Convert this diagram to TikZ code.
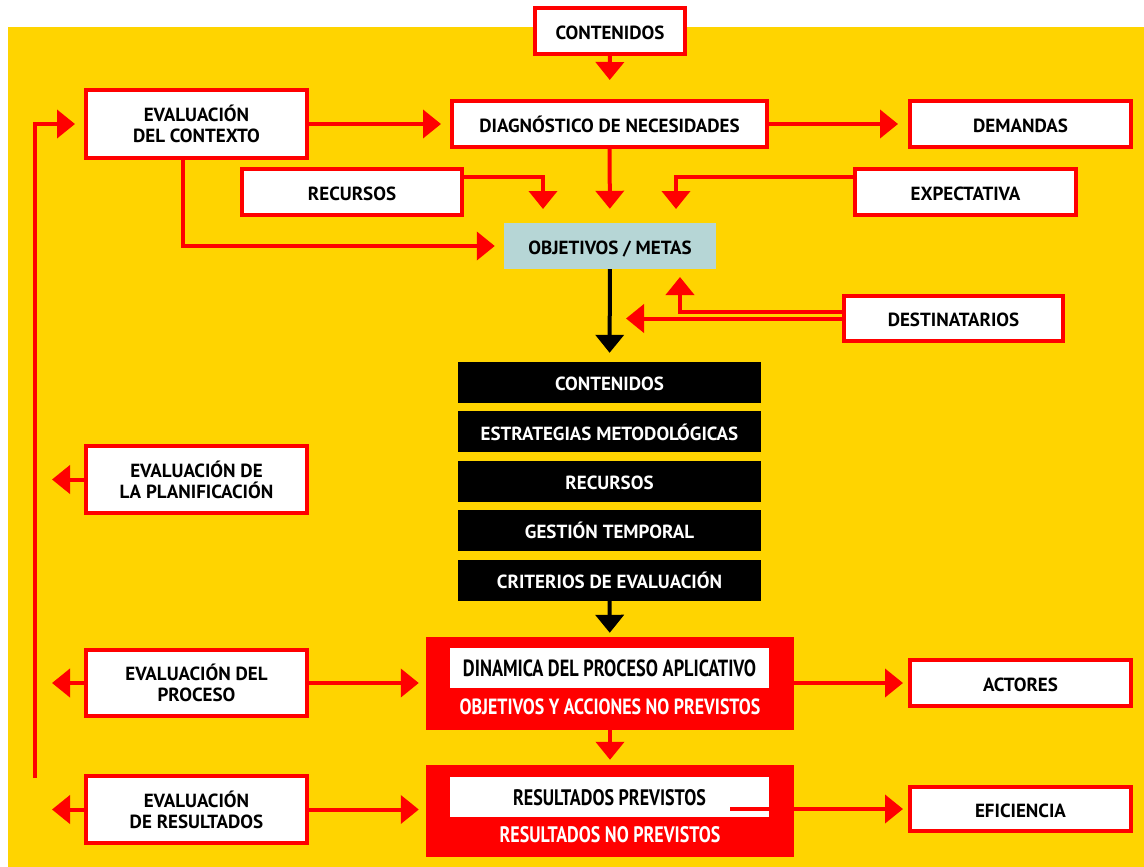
\documentclass[tikz,border=0pt]{standalone}
\usepackage{fontspec}
\setmainfont{PT Sans}
\newfontfamily\lblfont{PT Sans}
\newfontfamily\condfont{PT Sans}
\usetikzlibrary{arrows.meta}
\definecolor{bgyellow}{RGB}{255,212,0}
\definecolor{myred}{RGB}{255,0,0}
\definecolor{objblue}{RGB}{182,214,214}
\tikzset{
  lbl/.style={font=\lblfont\fontsize{19}{21}\selectfont\bfseries, align=center, text=black},
  oneline/.style={text height=16.5pt, text depth=0pt},
  redbox/.style={lbl, draw=myred, line width=4pt, fill=white, inner sep=0pt},
  blackbox/.style={lbl, oneline, fill=black, text=white, minimum width=303pt, minimum height=41pt, inner sep=0pt},
  tipshape/.style={-{Triangle[length=18pt,width=28pt]}},
  rarrow/.style={draw=myred, line width=4pt, tipshape},
  barrow/.style={draw=black, line width=4pt, tipshape},
  condtxt/.style={font=\condfont\bfseries, inner sep=0pt},
}
\newcommand{\fitto}[3]{\resizebox{#1pt}{#2pt}{#3}}
\begin{document}
\begin{tikzpicture}[x=1pt,y=-1pt]
\useasboundingbox (0,0) rectangle (1144,867);
\fill[white] (0,0) rectangle (1144,867);
\fill[bgyellow] (8,27) rectangle (1144,867);

% top row
\node[redbox, oneline, minimum width=150pt, minimum height=46pt] (contTop) at (610,31) {CONTENIDOS};
\node[redbox, minimum width=221pt, minimum height=68pt] (evalCtx) at (196.5,124) {EVALUACIÓN\\DEL CONTEXTO};
\node[redbox, oneline, minimum width=315pt, minimum height=46pt] (diag) at (609.5,124) {DIAGNÓSTICO DE NECESIDADES};
\node[redbox, oneline, minimum width=221pt, minimum height=46pt] (demandas) at (1020.5,124) {DEMANDAS};
\node[redbox, oneline, minimum width=220pt, minimum height=46pt] (recursos) at (352,192) {RECURSOS};
\node[redbox, oneline, minimum width=221pt, minimum height=46pt] (expect) at (965.5,192) {EXPECTATIVA};
\node[lbl, oneline, fill=objblue, minimum width=212pt, minimum height=46pt, inner sep=0pt] (objetivos) at (610,246) {OBJETIVOS / METAS};
\node[redbox, oneline, minimum width=219pt, minimum height=45pt] (destinat) at (953.5,318.5) {DESTINATARIOS};

% black column
\node[blackbox] (b1) at (609.5,382.5) {CONTENIDOS};
\node[blackbox] (b2) at (609.5,431.9) {ESTRATEGIAS METODOLÓGICAS};
\node[blackbox] (b3) at (609.5,481.3) {RECURSOS};
\node[blackbox] (b4) at (609.5,530.7) {GESTIÓN TEMPORAL};
\node[blackbox] (b5) at (609.5,580.1) {CRITERIOS DE EVALUACIÓN};

% left column
\node[redbox, minimum width=221pt, minimum height=67pt] (evalPlan) at (196.5,479.5) {EVALUACIÓN DE\\LA PLANIFICACIÓN};
\node[redbox, minimum width=221pt, minimum height=66pt] (evalProc) at (196.5,683) {EVALUACIÓN DEL\\PROCESO};
\node[redbox, minimum width=221pt, minimum height=67pt] (evalRes) at (196.5,809.5) {EVALUACIÓN\\DE RESULTADOS};

% red process boxes
\node[fill=myred, minimum width=368pt, minimum height=93pt, inner sep=0pt] (din) at (610,683.5) {};
\node[fill=white, minimum width=319pt, minimum height=40pt, inner sep=0pt] (dinTop) at (609.5,668) {};
\node[condtxt, text=black] (dinTopTxt) at (609.5,668) {\fitto{293}{16.7}{DINAMICA DEL PROCESO APLICATIVO}};
\node[condtxt, text=white] (dinBot) at (610,707) {\fitto{300.7}{15.7}{OBJETIVOS Y ACCIONES NO PREVISTOS}};
\node[fill=myred, minimum width=368pt, minimum height=92pt, inner sep=0pt] (res) at (610,811) {};
\node[fill=white, minimum width=319pt, minimum height=40pt, inner sep=0pt] (resTop) at (609.5,797) {};
\node[condtxt, text=black] (resTopTxt) at (609.5,798) {\fitto{192.7}{16}{RESULTADOS PREVISTOS}};
\node[condtxt, text=white] (resBot) at (610,835) {\fitto{220.7}{16}{RESULTADOS NO PREVISTOS}};

% right column
\node[redbox, oneline, minimum width=221pt, minimum height=46pt] (actores) at (1020.5,683) {ACTORES};
\node[redbox, oneline, minimum width=221pt, minimum height=44pt] (eficiencia) at (1020.5,809) {EFICIENCIA};

% coordinates
\coordinate (tR) at (543,209);
\coordinate (tE) at (676,209);
\coordinate (tD1) at (680,277);
\coordinate (tD2) at (626,318.5);
\coordinate (rs) at (730,809);
\coordinate (loopStart) at (35,778);
\coordinate (lx) at (52,0);

% connectors
\draw[rarrow, shorten >=19pt] (contTop) -- (diag);
\draw[rarrow, shorten >=9pt] (evalCtx) -- (diag);
\draw[rarrow, shorten >=10pt] (diag) -- (demandas);
\draw[rarrow] ([yshift=15pt]recursos.east) -| (tR);
\draw[rarrow, shorten >=14pt] (diag) -- (objetivos);
\draw[rarrow] ([yshift=15pt]expect.west) -| (tE);
\draw[rarrow, shorten >=9pt] ([xshift=-13.5pt]evalCtx.south) |- (objetivos.west);
\draw[barrow, shorten >=9pt] (objetivos) -- (b1);
\draw[rarrow] ([yshift=7pt]destinat.west) -| (tD1);
\draw[rarrow] (destinat.west) -- (tD2);
\draw[barrow, shorten >=4pt] (b5) -- (din);
\draw[rarrow, shorten >=5pt] (din) -- (res);
\draw[rarrow, shorten >=7pt] (evalProc.east) -- (evalProc.east -| din.west);
\draw[rarrow, shorten >=7pt] (evalRes.east) -- (evalRes.east -| res.west);
\draw[rarrow, shorten >=5pt] (actores.west -| din.east) -- (actores.west);
\draw[rarrow, shorten >=5pt] (rs) -- (eficiencia.west);
\draw[rarrow] (evalPlan.west) -- (evalPlan.west -| lx);
\draw[rarrow] (evalProc.west) -- (evalProc.west -| lx);
\draw[rarrow] (evalRes.west) -- (evalRes.west -| lx);
\draw[rarrow, shorten >=9pt] (loopStart) |- (evalCtx.west);
\end{tikzpicture}
\end{document}
